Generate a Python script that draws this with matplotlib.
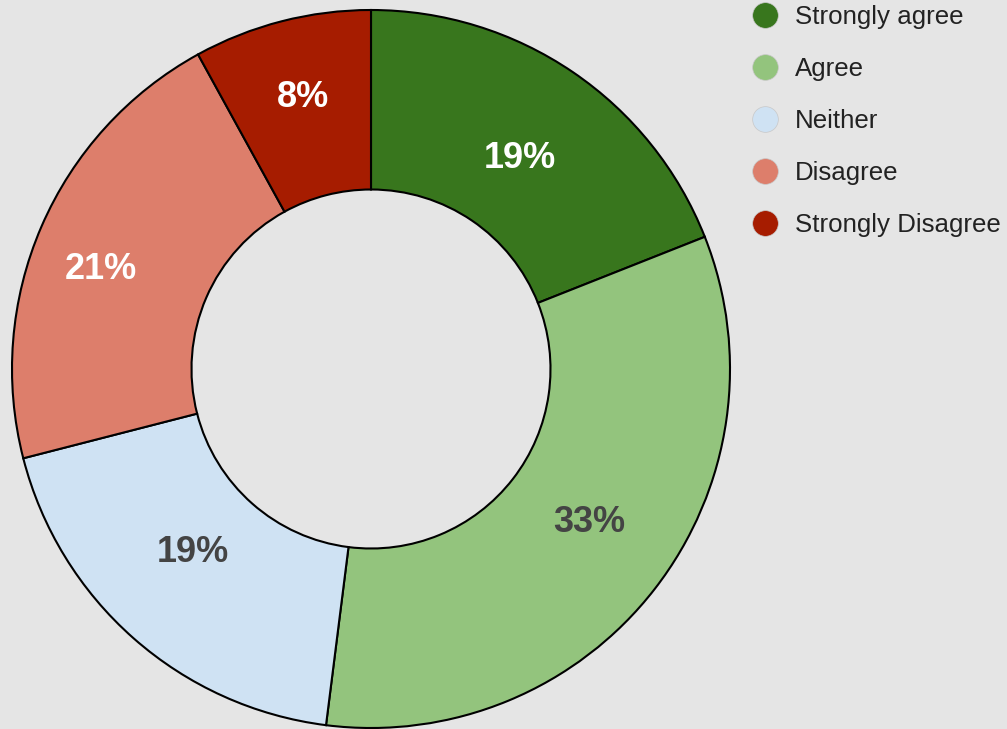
import numpy as np
import matplotlib.pyplot as plt
from matplotlib.lines import Line2D

plt.rcParams['font.family'] = ['Liberation Sans', 'DejaVu Sans']

labels = ['Strongly agree', 'Agree', 'Neither', 'Disagree', 'Strongly Disagree']
shares = [19, 33, 19, 21, 8]
colors = ['#38761d', '#93c47d', '#cfe2f3', '#dd7e6b', '#a61c00']
pct_colors = ['white', '#444444', '#444444', 'white', 'white']
# placement of each percentage label: radius (fraction of outer radius)
# and angular nudge (degrees) from the wedge middle
pct_radius = [0.727, 0.738, 0.705, 0.805, 0.791]
pct_nudge = [-0.7, 3.4, -3.3, 2.4, -0.6]

W, H = 1007, 729
bg = '#e5e5e5'
fig = plt.figure(figsize=(W / 100, H / 100), dpi=100, facecolor=bg)

# donut centre and outer radius in pixels
cx, cy, r = 371, 729 - 369, 359
lim = 1.1
side = 2 * r * lim
ax = fig.add_axes([(cx - side / 2) / W, (cy - side / 2) / H, side / W, side / H])
ax.set_facecolor(bg)

wedges, texts, autotexts = ax.pie(
    shares, colors=colors, startangle=90, counterclock=False,
    autopct=lambda p: f'{p:.0f}%', pctdistance=0.75,
    wedgeprops=dict(width=0.5, edgecolor='black', linewidth=1.5),
    textprops=dict(fontsize=26, fontweight='bold'))
for w, t, c, rad, nudge in zip(wedges, autotexts, pct_colors, pct_radius, pct_nudge):
    mid = np.deg2rad((w.theta1 + w.theta2) / 2 + nudge)
    t.set_position((rad * np.cos(mid), rad * np.sin(mid)))
    t.set_va('center_baseline')
    t.set_color(c)
ax.set_xlim(-lim, lim)
ax.set_ylim(-lim, lim)
ax.axis('off')

handles = [Line2D([], [], linestyle='none', marker='o', markersize=18.5,
                  markerfacecolor=c, markeredgecolor='#c8c8c8', markeredgewidth=0.5)
           for c in colors]
fig.legend(handles, labels, loc='upper left',
           bbox_to_anchor=(752.5 / W, 1 - 5 / H), frameon=False,
           fontsize=18.6, labelcolor='#222222', handlelength=1.0,
           handletextpad=0.65, borderpad=0, borderaxespad=0,
           labelspacing=1.08)

fig.savefig('out.png', dpi=100, facecolor=bg)
